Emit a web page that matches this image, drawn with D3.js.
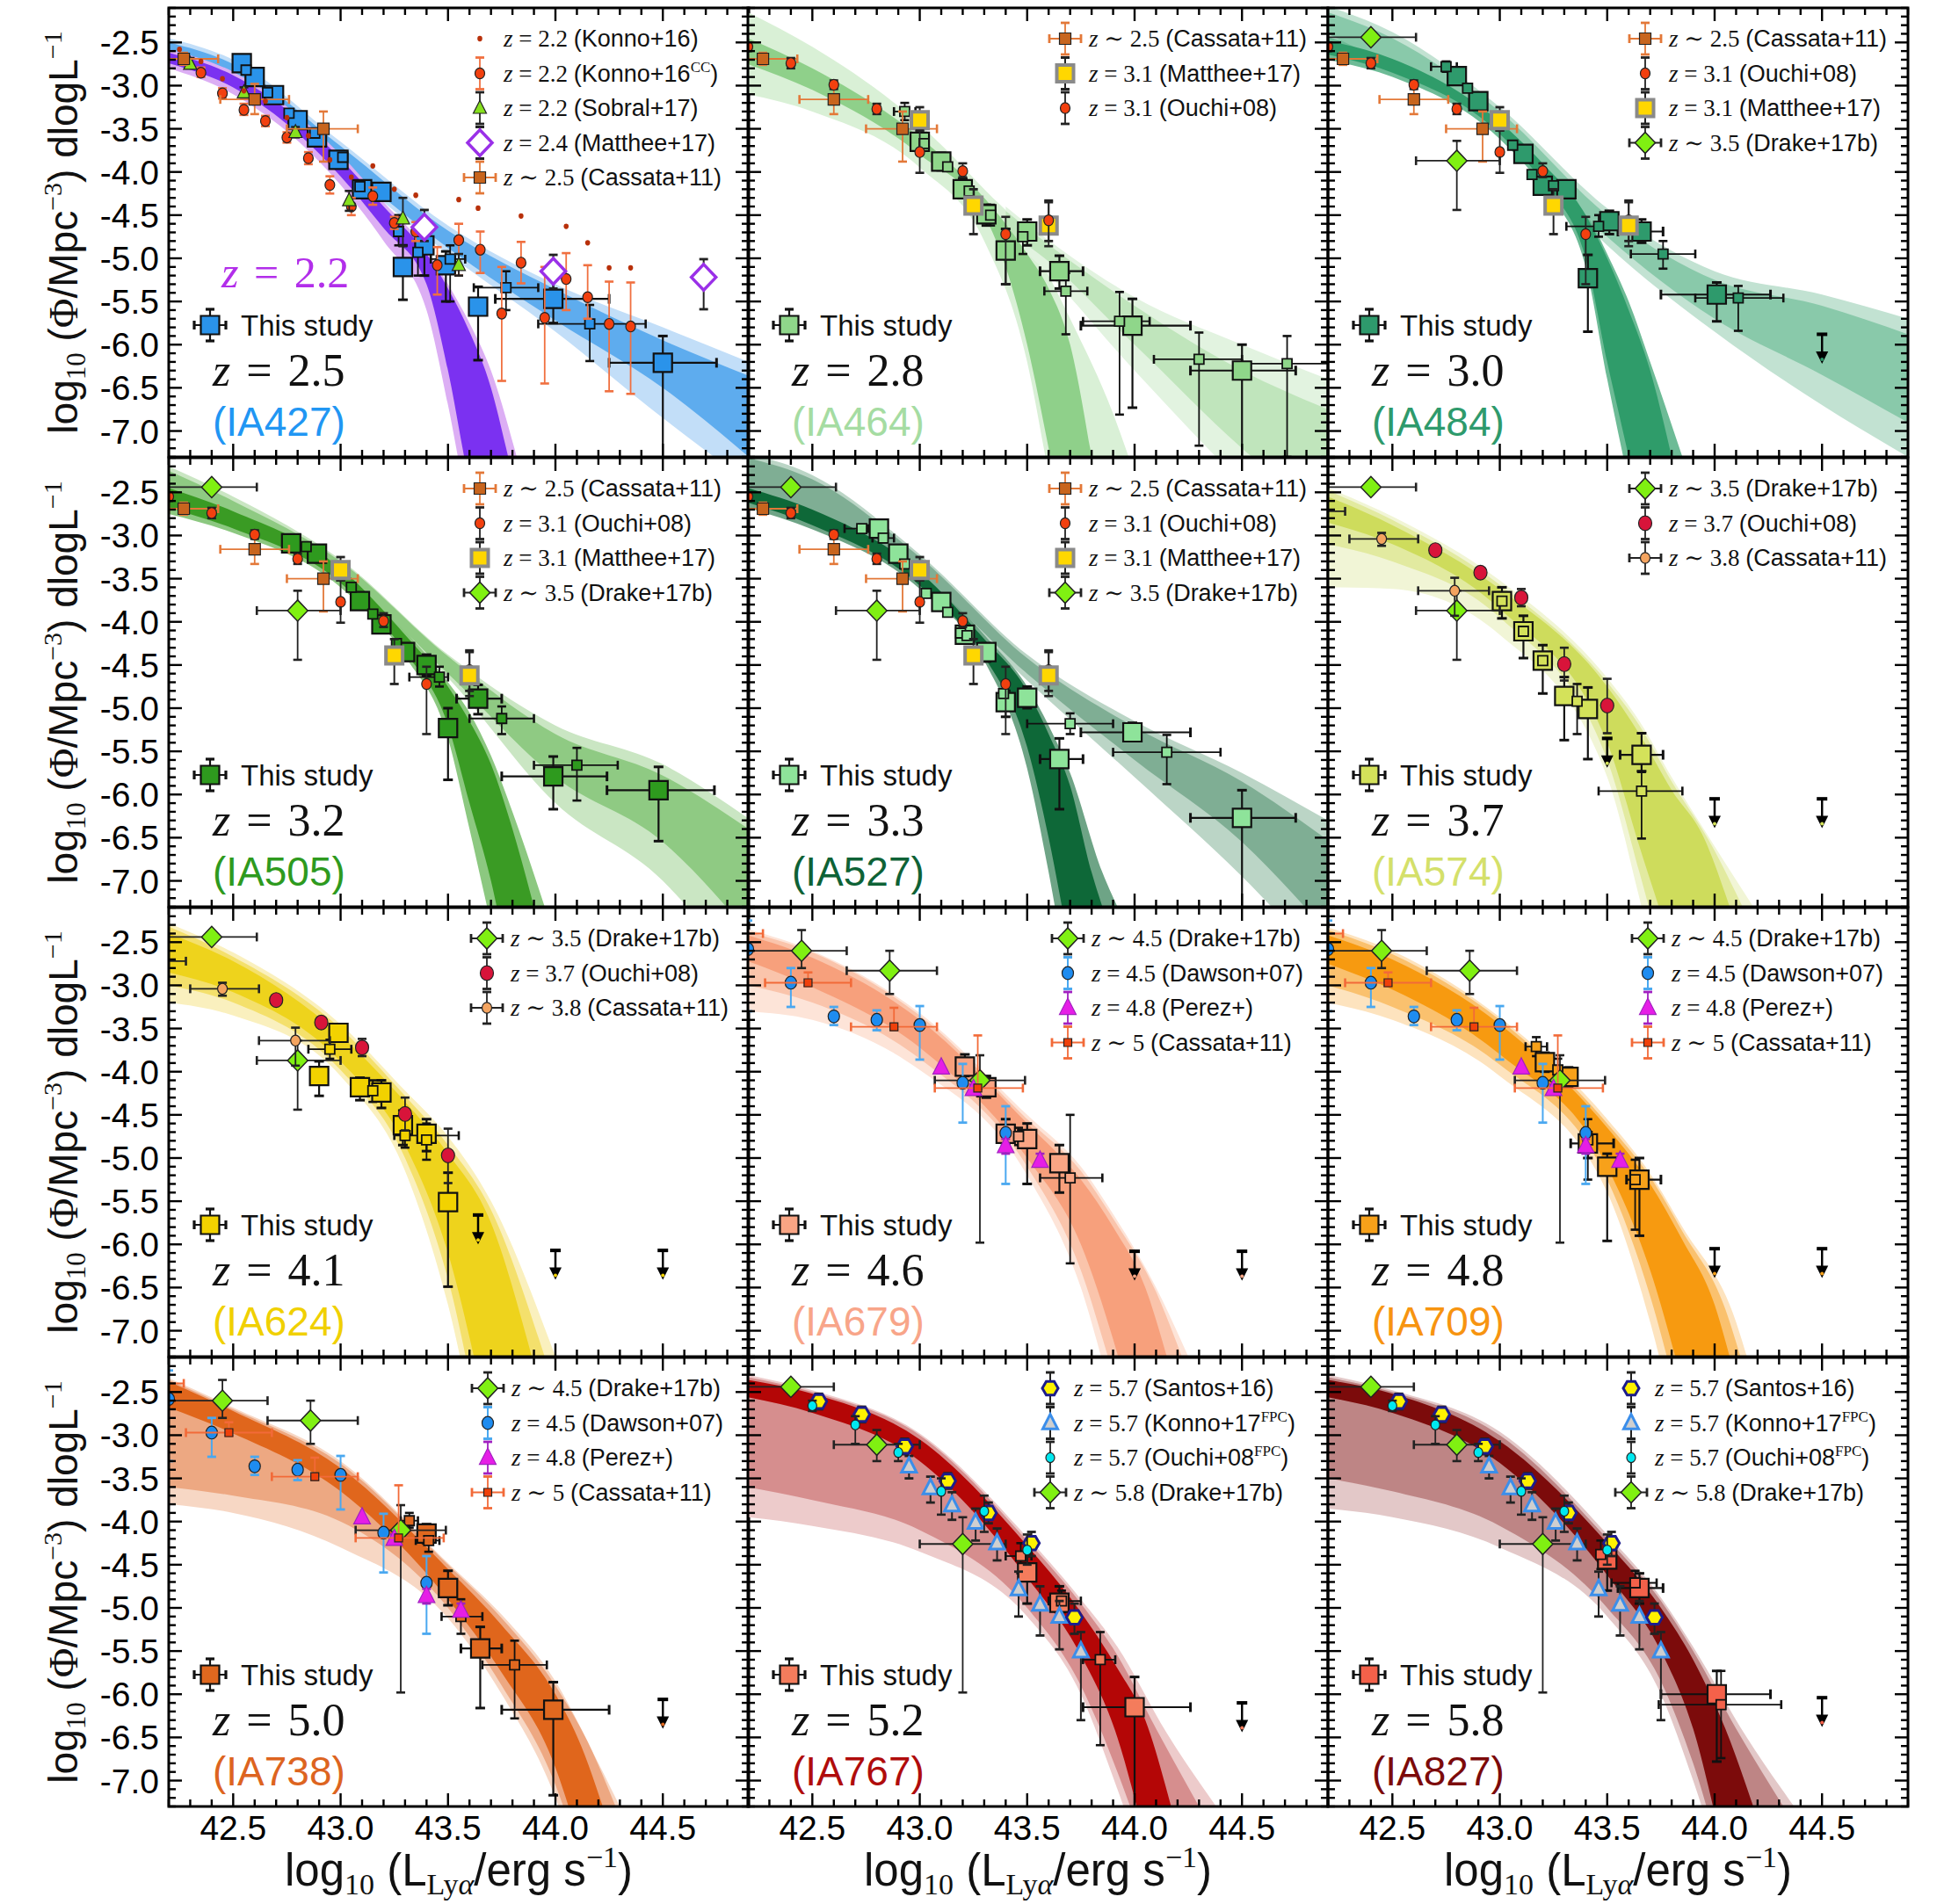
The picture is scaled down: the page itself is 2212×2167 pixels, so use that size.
<!DOCTYPE html>
<html><head><meta charset="utf-8">
<script src="https://cdn.jsdelivr.net/npm/d3@7"></script>
<style>body{margin:0;background:#fff}</style>
</head><body><svg id="c" width="2212" height="2167"></svg>
<script>
// ================= AXES =================
const xDomain = [42.2, 44.9];
const yDomain = [-7.3, -2.1];
const xTickValues = [42.5, 43.0, 43.5, 44.0, 44.5];
const xTickLabels = ["42.5", "43.0", "43.5", "44.0", "44.5"];
const yTickValues = [-2.5, -3.0, -3.5, -4.0, -4.5, -5.0, -5.5, -6.0, -6.5, -7.0];
const yTickLabels = ["-2.5", "-3.0", "-3.5", "-4.0", "-4.5", "-5.0", "-5.5", "-6.0", "-6.5", "-7.0"];
const filters = ["IA427", "IA464", "IA484", "IA505", "IA527", "IA574", "IA624", "IA679", "IA709", "IA738", "IA767", "IA827"];
const redshifts = ["2.5", "2.8", "3.0", "3.2", "3.3", "3.7", "4.1", "4.6", "4.8", "5.0", "5.2", "5.8"];

// point format: [logL, logPhi, phiLow, phiHigh, LLow, LHigh]
// ================= LITERATURE =================
const konno16 = [[42.25,-2.58],[42.35,-2.72],[42.45,-2.92],[42.55,-3.06],[42.65,-3.18],[42.75,-3.37],[42.85,-3.58],[42.95,-3.86],[43.05,-4.06],[43.15,-3.93],[43.25,-4.20],[43.35,-4.27],[43.55,-4.32],[43.64,-4.42],[43.84,-4.51],[44.05,-4.63],[44.15,-4.82],[44.25,-5.11],[44.35,-5.11]];
const konno16cc = [[42.35,-2.85,-2.90,-2.79],[42.45,-3.09,-3.15,-3.03],[42.55,-3.28,-3.34,-3.21],[42.65,-3.41,-3.47,-3.35],[42.75,-3.60,-3.66,-3.54],[42.85,-3.84,-3.91,-3.77],[42.95,-4.15,-4.25,-4.05],[43.05,-4.40,-4.50,-4.30],[43.15,-4.28,-4.38,-4.18],[43.25,-4.59,-4.66,-4.52],[43.35,-4.69,-4.80,-4.58],[43.45,-5.08,-5.42,-4.87],[43.55,-4.79,-5.20,-4.60],[43.65,-4.90,-5.17,-4.69],[43.75,-5.64,-6.42,-5.10],[43.84,-5.05,-5.29,-4.81],[43.95,-5.69,-6.45,-5.10],[44.05,-5.24,-5.60,-4.94],[44.15,-5.45,-5.70,-5.08],[44.25,-5.76,-6.54,-5.27],[44.35,-5.79,-6.57,-5.28]];
const sobral17 = [[42.30,-2.75,-2.80,-2.68],[42.55,-3.08,-3.14,-3.02],[42.79,-3.54,-3.60,-3.48],[43.04,-4.33,-4.45,-4.22],[43.29,-4.54,-4.86,-4.30],[43.55,-5.08,-5.20,-4.95]];
const matthee24 = [[43.39,-4.64,-4.80,-4.44],[43.99,-5.15,-5.35,-4.96],[44.69,-5.22,-5.59,-5.01]];
const cassata25 = [[42.27,-2.69,-2.76,-2.62,42.20,42.43],[42.60,-3.16,-3.33,-2.98,42.44,42.76],[42.92,-3.50,-3.88,-3.30,42.75,43.08]];
const ouchi31 = [[42.20,-2.55,-2.60,-2.50],[42.40,-2.74,-2.80,-2.68],[42.60,-2.99,-3.04,-2.94],[42.80,-3.27,-3.33,-3.21],[43.00,-3.77,-4.01,-3.52],[43.20,-3.99,-4.06,-3.90],[43.40,-4.72,-5.30,-4.52],[43.60,-4.56,-4.86,-4.33]];
const matthee31 = [[43.00,-3.40,-3.52,-3.25],[43.25,-4.39,-4.72,-4.20],[43.60,-4.62,-4.80,-4.35]];
const drake35 = [[42.40,-2.44,-2.49,-2.39,42.20,42.61],[42.80,-3.87,-4.44,-3.64,42.61,43.00]];
const ouchi37 = [[42.70,-3.17],[42.91,-3.43],[43.10,-3.72,-3.82,-3.62],[43.30,-4.49,-4.68,-4.30],[43.50,-4.97,-5.29,-4.66]];
const cassata38 = [[42.12,-2.72,-2.76,-2.68,42.00,42.28],[42.45,-3.04,-3.12,-2.97,42.30,42.62],[42.79,-3.64,-3.93,-3.49,42.62,42.95]];
const drake45 = [[42.45,-2.60,-2.80,-2.36,42.20,42.66],[42.86,-2.83,-3.10,-2.60,42.66,43.08],[43.28,-4.10,-5.98,-3.81,43.07,43.49]];
const dawson07 = [[42.20,-2.58,-3.30,-2.25],[42.40,-2.97,-3.25,-2.80],[42.60,-3.36,-3.46,-3.25],[42.80,-3.40,-3.52,-3.29],[43.00,-3.46,-3.86,-3.24],[43.20,-4.13,-4.59,-3.91],[43.40,-4.71,-5.30,-4.40]];
const perez = [[43.10,-3.95],[43.25,-4.20,-4.25,-4.15],[43.40,-4.86,-4.95,-4.78],[43.56,-5.03,-5.08,-4.95]];
const cassata5 = [[42.12,-2.40,-2.45,-2.35,42.00,42.27],[42.48,-2.97,-3.01,-2.85,42.28,42.68],[42.88,-3.48,-3.52,-3.26,42.68,43.08],[43.27,-4.19,-4.22,-3.58,43.07,43.48]];
const santos16 = [[42.53,-2.61,-2.70,-2.52],[42.73,-2.76,-2.85,-2.67],[42.93,-3.13,-3.22,-3.04],[43.13,-3.53,-3.62,-3.44],[43.32,-3.90,-4.02,-3.78],[43.52,-4.25,-4.40,-4.12],[43.72,-5.11,-5.30,-4.95]];
const konno17 = [[42.95,-3.36,-3.50,-3.24],[43.05,-3.61,-3.78,-3.48],[43.15,-3.81,-3.98,-3.66],[43.26,-4.01,-4.22,-3.85],[43.36,-4.25,-4.45,-4.08],[43.46,-4.78,-5.10,-4.58],[43.56,-4.96,-5.32,-4.75],[43.65,-5.10,-5.48,-4.92],[43.75,-5.50,-6.30,-5.28]];
const ouchi08fpc = [[42.50,-2.66,-2.72,-2.60],[42.70,-2.88,-3.10,-2.78],[42.90,-3.20,-3.30,-3.10],[43.10,-3.65,-3.92,-3.50],[43.30,-3.88,-4.12,-3.70],[43.50,-4.33,-4.50,-4.15]];
const drake58 = [[42.40,-2.44,-2.49,-2.39,42.20,42.60],[42.80,-3.11,-3.30,-2.94,42.60,43.00],[43.20,-4.26,-5.98,-3.95,43.00,43.40]];

// ================= THIS STUDY =================
const ia427Big = [[42.54,-2.74,-2.82,-2.66],[42.60,-2.90],[42.69,-3.11],[42.80,-3.40,-3.48,-3.33],[42.89,-3.60,-3.68,-3.52],[42.99,-3.86,-3.95,-3.78],[43.10,-4.20,-4.30,-4.10],[43.19,-4.23,-4.33,-4.14],[43.29,-5.10,-5.48,-4.85],[43.39,-4.85,-5.20,-4.55],[43.49,-5.08,-5.50,-4.92],[43.64,-5.56,-6.18,-5.33],[43.99,-5.47,-5.75,-5.05,43.72,44.25],[44.50,-6.21,-7.40,-5.90,44.25,44.75]];
const ia427Small = [[42.56,-2.82],[42.66,-3.08],[42.76,-3.32],[42.88,-3.55],[43.01,-3.83],[43.09,-4.17],[43.27,-4.69,-4.85,-4.50],[43.36,-4.93,-5.20,-4.70],[43.51,-5.01,-5.50,-4.85,43.42,43.58],[43.77,-5.34,-5.60,-5.15,43.62,43.92],[44.16,-5.76,-6.19,-5.54,43.92,44.42]];
const ia464Big = [[43.00,-3.65,-3.75,-3.55],[43.10,-3.88,-3.98,-3.78],[43.20,-4.20,-4.30,-4.08],[43.31,-4.49,-4.62,-4.38],[43.40,-4.91,-5.30,-4.66],[43.50,-4.69,-4.85,-4.55],[43.65,-5.15,-5.35,-4.97,43.56,43.76],[43.99,-5.78,-6.73,-5.47,43.75,44.26],[44.50,-6.30,-7.40,-6.00,44.26,44.75]];
const ia464Small = [[42.93,-3.30,-3.40,-3.20,42.88,42.98],[43.02,-3.67],[43.13,-3.94],[43.23,-4.22],[43.33,-4.50,-4.62,-4.38],[43.48,-4.75,-4.95,-4.60],[43.68,-5.38,-5.88,-5.17,43.58,43.78],[43.93,-5.73,-6.81,-5.39,43.76,44.07],[44.30,-6.17,-7.17,-5.86,44.09,44.50],[44.71,-6.22,-7.30,-5.90,44.50,44.95]];
const ia484Big = [[42.80,-2.89,-2.96,-2.80],[42.90,-3.18,-3.26,-3.10],[43.11,-3.79,-3.87,-3.71],[43.20,-4.16,-4.24,-4.08],[43.31,-4.20,-4.30,-4.10],[43.41,-5.23,-5.85,-4.96],[43.51,-4.57,-4.72,-4.45],[43.66,-4.69,-4.82,-4.55,43.55,43.76],[44.01,-5.42,-5.73,-5.28,43.75,44.26]];
const ia484Small = [[42.75,-2.78,-2.84,-2.72,42.68,42.80],[42.85,-3.03],[43.06,-3.69],[43.15,-4.03],[43.25,-4.16],[43.46,-4.63,-4.75,-4.50,43.31,43.50],[43.76,-4.95,-5.12,-4.80,43.61,43.91],[44.11,-5.46,-5.84,-5.32,43.91,44.32]];
const ia484Upper = [[44.5,-5.88]];
const ia505Big = [[42.77,-3.09,-3.17,-3.01],[42.89,-3.21,-3.30,-3.12],[43.09,-3.76,-3.84,-3.68],[43.19,-4.03,-4.12,-3.94],[43.30,-4.35,-4.45,-4.25],[43.40,-4.50,-4.62,-4.38],[43.50,-5.23,-5.83,-5.00],[43.64,-4.89,-5.07,-4.73,43.54,43.75],[43.99,-5.79,-6.17,-5.56,43.75,44.24],[44.48,-5.95,-6.54,-5.68,44.24,44.74]];
const ia505Small = [[42.84,-3.13],[43.05,-3.60],[43.15,-3.91],[43.26,-4.25],[43.46,-4.64,-4.75,-4.52,43.32,43.50],[43.75,-5.12,-5.30,-4.98,43.60,43.90],[44.10,-5.66,-6.07,-5.46,43.90,44.29]];
const ia527Big = [[42.81,-2.92,-3.00,-2.84],[42.90,-3.21,-3.30,-3.12],[43.10,-3.77,-3.86,-3.68],[43.21,-4.15,-4.25,-4.05],[43.31,-4.35,-4.46,-4.25],[43.40,-4.93,-5.10,-4.80],[43.50,-4.88,-5.00,-4.75],[43.65,-5.59,-6.17,-5.35,43.56,43.76],[43.99,-5.28,-5.38,-5.17,43.75,44.26],[44.50,-6.27,-7.40,-5.95,44.26,44.75]];
const ia527Small = [[42.73,-2.92,-2.96,-2.88,42.65,42.76],[42.83,-3.03,-3.08,-2.97,42.78,42.88],[42.93,-3.33],[43.03,-3.67],[43.13,-3.89],[43.19,-4.13],[43.22,-4.16],[43.39,-4.83],[43.70,-5.18,-5.30,-5.06,43.50,43.90],[44.15,-5.51,-5.88,-5.31,43.90,44.40]];
const ia574Big = [[43.01,-3.76,-3.96,-3.60],[43.11,-4.11,-4.42,-3.93],[43.20,-4.45,-4.83,-4.27],[43.30,-4.86,-5.37,-4.64],[43.41,-5.01,-5.59,-4.76],[43.66,-5.54,-5.73,-5.29,43.56,43.76]];
const ia574Small = [[43.01,-3.76],[43.11,-4.11],[43.20,-4.45],[43.36,-4.92,-5.30,-4.72],[43.66,-5.96,-6.51,-5.74,43.46,43.85]];
const ia574Upper = [[43.5,-5.35],[44.0,-6.05],[44.5,-6.05]];
const ia624Big = [[42.99,-3.55,-3.65,-3.45],[42.90,-4.05,-4.28,-3.88],[43.09,-4.18,-4.33,-4.07],[43.19,-4.24,-4.42,-4.10],[43.29,-4.62,-4.85,-4.45],[43.40,-4.72,-4.92,-4.55],[43.50,-5.51,-6.49,-5.17]];
const ia624Small = [[42.95,-3.74,-3.85,-3.63,42.85,43.05],[43.15,-4.22,-4.35,-4.10],[43.30,-4.74,-4.88,-4.60,43.25,43.55],[43.40,-4.79,-5.02,-4.60]];
const ia624Upper = [[43.64,-5.66],[44.0,-6.07],[44.5,-6.07]];
const ia679Big = [[43.21,-3.94,-4.05,-3.80],[43.31,-4.18,-4.30,-4.05],[43.40,-4.72,-4.85,-4.55],[43.50,-4.78,-5.30,-4.60],[43.65,-5.06,-5.40,-4.85]];
const ia679Small = [[43.46,-4.75,-4.85,-4.65],[43.70,-5.23,-6.22,-4.50,43.56,43.85]];
const ia679Upper = [[44.0,-6.08],[44.5,-6.08]];
const ia709Big = [[43.21,-3.89,-4.00,-3.78],[43.32,-4.06,-4.18,-3.95],[43.41,-4.83,-5.00,-4.70,43.33,43.53],[43.50,-5.10,-5.96,-4.95],[43.65,-5.25,-5.90,-5.00,43.59,43.75]];
const ia709Small = [[43.17,-3.71,-3.82,-3.60,43.12,43.22],[43.27,-3.98,-4.10,-3.85],[43.41,-4.79,-5.25,-4.55],[43.63,-5.25,-5.83,-5.02]];
const ia709Upper = [[44.0,-6.05],[44.5,-6.05]];
const ia738Big = [[43.40,-4.14,-4.25,-4.03],[43.50,-4.77,-4.97,-4.57],[43.65,-5.47,-6.16,-5.22,43.56,43.75],[43.99,-6.18,-7.17,-5.86,43.75,44.25]];
const ia738Small = [[43.32,-3.99,-4.07,-3.90,43.28,43.36],[43.41,-4.22,-4.35,-4.10,43.35,43.46],[43.56,-5.10,-5.30,-4.90,43.47,43.66],[43.81,-5.66,-6.28,-5.38,43.66,43.96]];
const ia738Upper = [[44.5,-6.06]];
const ia767Big = [[43.50,-4.59,-4.95,-4.40],[43.65,-4.94,-5.15,-4.75],[44.00,-6.15,-7.40,-5.80,43.76,44.26]];
const ia767Small = [[43.47,-4.40,-4.60,-4.25,43.40,43.52],[43.66,-4.92,-5.05,-4.80,43.60,43.75],[43.84,-5.60,-6.59,-5.28,43.76,43.91]];
const ia767Upper = [[44.5,-6.10]];
const ia827Big = [[43.50,-4.44,-4.80,-4.25],[43.65,-4.77,-4.95,-4.60,43.55,43.76],[44.01,-6.00,-6.78,-5.73,43.75,44.26]];
const ia827Small = [[43.47,-4.38,-4.55,-4.22],[43.63,-4.71,-4.85,-4.57,43.52,43.73],[44.03,-6.12,-6.74,-5.73,43.74,44.31]];
const ia827Upper = [[44.5,-6.04]];

// ================= FIT BANDS: [logL, lower, upper] =================
const ia427BandOuter = [[42.2,-2.78,-2.45],[42.5,-3.02,-2.70],[43.0,-3.95,-3.65],[43.5,-4.95,-4.62],[44.0,-5.85,-5.30],[44.5,-6.85,-5.80],[44.9,-7.6,-6.20]];
const ia427BandInner = [[42.2,-2.72,-2.50],[42.5,-2.97,-2.75],[43.0,-3.90,-3.70],[43.5,-4.88,-4.68],[44.0,-5.72,-5.36],[44.5,-6.50,-5.95],[44.9,-7.3,-6.36]];
const ia427Z22Outer = [[42.2,-2.80,-2.58],[42.5,-3.10,-2.84],[43.0,-4.15,-3.80],[43.2,-4.80,-4.35],[43.4,-5.60,-4.90],[43.5,-6.70,-5.30],[43.6,-8.0,-5.75],[43.7,-9.0,-6.30],[43.82,-9.5,-7.30]];
const ia427Z22Inner = [[42.2,-2.74,-2.62],[42.5,-3.02,-2.88],[42.8,-3.55,-3.38],[43.0,-4.05,-3.85],[43.2,-4.65,-4.40],[43.4,-5.30,-4.95],[43.5,-6.30,-5.35],[43.6,-7.60,-5.85],[43.7,-8.5,-6.50],[43.78,-9.0,-7.30]];
const ia464SteepOuter = [[42.2,-3.10,-2.15],[42.5,-3.30,-2.55],[43.0,-3.95,-3.45],[43.3,-4.80,-4.20],[43.5,-6.20,-4.75],[43.6,-7.50,-5.20],[43.7,-8.8,-5.70],[43.9,-10,-6.80],[44.0,-10.5,-7.50]];
const ia464SteepInner = [[42.2,-2.75,-2.45],[42.5,-3.05,-2.80],[43.0,-3.80,-3.60],[43.3,-4.50,-4.30],[43.4,-5.10,-4.60],[43.5,-6.00,-4.95],[43.6,-7.20,-5.35],[43.7,-8.5,-6.00],[43.8,-9.5,-7.30]];
const ia464ShallowOuter = [[43.4,-4.75,-4.40],[43.5,-4.95,-4.60],[44.0,-6.30,-5.45],[44.5,-7.60,-6.00],[44.9,-8.5,-6.40]];
const ia464ShallowInner = [[43.4,-4.70,-4.45],[43.5,-4.85,-4.65],[44.0,-6.00,-5.55],[44.5,-7.20,-6.30],[44.9,-8.0,-6.75]];
const ia484SteepOuter = [[42.2,-2.70,-2.44],[42.5,-2.90,-2.65],[43.0,-3.62,-3.38],[43.2,-4.18,-3.86],[43.4,-5.10,-4.45],[43.5,-6.40,-4.95],[43.6,-7.60,-5.50],[43.7,-8.8,-6.20],[43.85,-10,-7.30]];
const ia484SteepInner = [[42.2,-2.64,-2.48],[42.5,-2.85,-2.69],[43.0,-3.56,-3.42],[43.2,-4.12,-3.90],[43.4,-5.00,-4.50],[43.5,-6.20,-5.00],[43.6,-7.30,-5.60],[43.7,-8.5,-6.30],[43.8,-9.5,-7.30]];
const ia484ShallowOuter = [[42.2,-2.50,-2.08],[42.5,-2.85,-2.38],[43.0,-3.55,-3.25],[43.5,-4.85,-4.42],[44.0,-5.85,-5.15],[44.5,-6.70,-5.42],[44.9,-7.30,-5.70]];
const ia484ShallowInner = [[42.2,-2.40,-2.15],[42.5,-2.78,-2.45],[43.0,-3.50,-3.30],[43.5,-4.75,-4.50],[44.0,-5.70,-5.25],[44.5,-6.35,-5.55],[44.9,-6.90,-5.88]];
const ia505SteepOuter = [[42.2,-2.75,-2.40],[42.5,-2.97,-2.68],[43.0,-3.60,-3.33],[43.3,-4.40,-4.10],[43.5,-5.35,-4.70],[43.6,-6.40,-5.05],[43.7,-7.50,-5.55],[43.8,-8.6,-6.20],[43.95,-10,-7.30]];
const ia505SteepInner = [[42.2,-2.68,-2.45],[42.5,-2.92,-2.72],[43.0,-3.55,-3.38],[43.3,-4.35,-4.15],[43.5,-5.20,-4.75],[43.6,-6.10,-5.15],[43.7,-7.00,-5.65],[43.8,-8.2,-6.40],[43.9,-9.5,-7.30]];
const ia505ShallowOuter = [[42.2,-2.60,-2.20],[42.5,-2.90,-2.55],[43.0,-3.50,-3.28],[43.5,-4.65,-4.38],[44.0,-6.10,-5.20],[44.5,-7.00,-5.65],[44.9,-8.2,-6.28]];
const ia505ShallowInner = [[42.2,-2.55,-2.25],[42.5,-2.85,-2.60],[43.0,-3.45,-3.30],[43.5,-4.60,-4.40],[44.0,-5.80,-5.30],[44.5,-6.55,-5.78],[44.9,-7.6,-6.40]];
const ia527SteepOuter = [[42.2,-2.68,-2.40],[42.5,-2.93,-2.65],[43.0,-3.62,-3.37],[43.3,-4.45,-4.15],[43.5,-5.70,-4.75],[43.6,-6.90,-5.20],[43.7,-8.3,-5.75],[43.85,-10,-6.90],[43.92,-10.5,-7.30]];
const ia527SteepInner = [[42.2,-2.62,-2.45],[42.5,-2.88,-2.70],[43.0,-3.58,-3.42],[43.3,-4.40,-4.20],[43.5,-5.45,-4.80],[43.6,-6.50,-5.30],[43.7,-7.80,-5.90],[43.8,-9.0,-6.90],[43.85,-9.5,-7.30]];
const ia527ShallowOuter = [[42.2,-2.50,-2.05],[42.5,-2.80,-2.30],[43.0,-3.50,-3.22],[43.5,-4.68,-4.38],[44.0,-5.80,-5.15],[44.5,-6.95,-5.75],[44.9,-8.0,-6.30]];
const ia527ShallowInner = [[42.2,-2.45,-2.10],[42.5,-2.75,-2.35],[43.0,-3.45,-3.25],[43.5,-4.60,-4.42],[44.0,-5.60,-5.22],[44.5,-6.55,-5.85],[44.9,-7.6,-6.53]];
const ia574BandLightest = [[42.2,-3.60,-2.45],[42.5,-3.62,-2.78],[43.0,-4.15,-3.52],[43.5,-5.80,-4.65],[43.65,-7.20,-5.15],[43.8,-8.8,-5.80],[44.0,-10.5,-6.60],[44.18,-11.5,-7.30]];
const ia574BandOuter = [[42.2,-3.10,-2.48],[42.5,-3.30,-2.82],[43.0,-3.95,-3.57],[43.5,-5.60,-4.70],[43.65,-6.90,-5.20],[43.8,-8.3,-5.85],[44.0,-10,-6.65],[44.13,-11,-7.30]];
const ia574BandInner = [[42.2,-2.85,-2.55],[42.5,-3.10,-2.88],[43.0,-3.85,-3.62],[43.5,-5.40,-4.75],[43.65,-6.60,-5.30],[43.8,-7.8,-5.95],[43.95,-9.3,-6.50],[44.07,-10.5,-7.30]];
const ia624BandLightest = [[42.2,-3.20,-2.28],[42.5,-3.35,-2.62],[43.0,-4.05,-3.45],[43.3,-5.15,-4.22],[43.5,-6.70,-4.75],[43.7,-9.0,-5.50],[44.0,-11.5,-7.30]];
const ia624BandOuter = [[42.2,-3.00,-2.32],[42.5,-3.20,-2.67],[43.0,-3.98,-3.50],[43.3,-5.00,-4.28],[43.5,-6.40,-4.85],[43.7,-8.7,-5.60],[43.95,-11,-7.30]];
const ia624BandInner = [[42.2,-2.85,-2.40],[42.5,-3.08,-2.72],[43.0,-3.88,-3.58],[43.3,-4.85,-4.35],[43.5,-6.10,-4.95],[43.7,-8.2,-5.75],[43.89,-10.5,-7.30]];
const ia679BandLightest = [[42.2,-3.30,-2.35],[42.5,-3.40,-2.60],[43.0,-3.98,-3.32],[43.5,-5.20,-4.50],[43.75,-6.50,-5.10],[43.9,-7.8,-5.65],[44.1,-9.5,-6.50],[44.25,-11,-7.30]];
const ia679BandOuter = [[42.2,-3.00,-2.38],[42.5,-3.20,-2.62],[43.0,-3.85,-3.35],[43.5,-5.10,-4.55],[43.75,-6.30,-5.15],[43.9,-7.5,-5.70],[44.1,-9.2,-6.55],[44.22,-10.5,-7.30]];
const ia679BandInner = [[42.2,-2.72,-2.42],[42.5,-3.02,-2.68],[43.0,-3.72,-3.40],[43.5,-5.00,-4.60],[43.75,-6.00,-5.25],[43.9,-7.1,-5.80],[44.05,-8.5,-6.50],[44.15,-9.5,-7.30]];
const ia709BandLightest = [[42.2,-3.20,-2.33],[42.5,-3.40,-2.60],[43.0,-4.05,-3.37],[43.5,-5.40,-4.55],[43.7,-6.90,-5.18],[43.85,-8.4,-5.80],[44.1,-10.5,-6.90],[44.15,-11,-7.30]];
const ia709BandOuter = [[42.2,-3.00,-2.36],[42.5,-3.25,-2.64],[43.0,-3.92,-3.40],[43.5,-5.25,-4.60],[43.7,-6.60,-5.22],[43.85,-8.0,-5.85],[44.05,-10,-6.75],[44.12,-10.5,-7.30]];
const ia709BandInner = [[42.2,-2.75,-2.42],[42.5,-3.05,-2.70],[43.0,-3.80,-3.45],[43.5,-5.10,-4.65],[43.7,-6.30,-5.30],[43.85,-7.6,-5.95],[44.0,-9.0,-6.70],[44.07,-10,-7.30]];
const ia738BandLightest = [[42.2,-3.80,-2.34],[42.5,-3.90,-2.68],[43.0,-4.30,-3.30],[43.5,-5.12,-4.48],[43.75,-6.00,-5.08],[44.0,-7.20,-5.85],[44.2,-8.8,-6.80],[44.3,-9.8,-7.30]];
const ia738BandOuter = [[42.2,-3.60,-2.36],[42.5,-3.70,-2.70],[43.0,-4.00,-3.33],[43.5,-5.00,-4.50],[43.75,-5.90,-5.12],[44.0,-7.05,-5.90],[44.15,-8.2,-6.55],[44.28,-9.5,-7.30]];
const ia738BandInner = [[42.2,-2.68,-2.38],[42.5,-2.98,-2.72],[43.0,-3.65,-3.38],[43.5,-4.90,-4.55],[43.75,-5.75,-5.20],[44.0,-6.85,-6.00],[44.12,-7.8,-6.60],[44.22,-8.8,-7.30]];
const ia767BandLightest = [[42.2,-3.95,-2.30],[42.5,-4.05,-2.48],[43.0,-4.35,-2.98],[43.5,-5.10,-4.18],[43.75,-6.00,-4.90],[43.92,-7.10,-5.45],[44.15,-8.8,-6.45],[44.38,-10.5,-7.30]];
const ia767BandOuter = [[42.2,-3.60,-2.33],[42.5,-3.75,-2.50],[43.0,-4.10,-3.00],[43.5,-5.00,-4.22],[43.75,-5.90,-4.95],[43.92,-6.90,-5.55],[44.1,-8.2,-6.40],[44.3,-10,-7.30]];
const ia767BandInner = [[42.2,-2.56,-2.36],[42.5,-2.74,-2.52],[43.0,-3.30,-3.05],[43.5,-4.65,-4.28],[43.75,-5.55,-5.05],[43.92,-6.50,-5.70],[44.05,-7.7,-6.30],[44.17,-9.0,-7.30]];
const ia827BandLightest = [[42.2,-3.85,-2.30],[42.5,-3.95,-2.48],[43.0,-4.30,-2.96],[43.5,-5.10,-4.15],[43.75,-6.00,-4.88],[43.9,-7.00,-5.45],[44.15,-9.0,-6.50],[44.37,-10.5,-7.30]];
const ia827BandOuter = [[42.2,-3.50,-2.33],[42.5,-3.65,-2.50],[43.0,-4.05,-3.00],[43.5,-5.00,-4.20],[43.75,-5.85,-4.92],[43.9,-6.80,-5.50],[44.1,-8.5,-6.40],[44.32,-10,-7.30]];
const ia827BandInner = [[42.2,-2.56,-2.36],[42.5,-2.74,-2.52],[43.0,-3.32,-3.07],[43.5,-4.62,-4.25],[43.75,-5.50,-5.00],[43.9,-6.40,-5.60],[44.05,-7.9,-6.40],[44.18,-9.2,-7.30]];

// ================= STYLES =================
const SANS = "'Liberation Sans', Arial, Helvetica, sans-serif";
const SERIF = "'Liberation Serif', 'DejaVu Serif', 'Times New Roman', serif";
const STY = {
  konno16:   {shape:'circle', s:5.6, fill:'#B8300A', stroke:'none', sw:0, err:null, lerr:''},
  konno16cc: {shape:'circle', s:11, fill:'#F2400F', stroke:'#222', sw:1.2, err:'#F07040', ew:1.8, lerr:'v'},
  sobral:    {shape:'triangle', s:15, fill:'#86E01E', stroke:'#222', sw:1.2, err:'#222', ew:1.8, lerr:'v'},
  matthee24: {shape:'diamond', s:28, fill:'#fff', stroke:'#9A30E8', sw:3.5, err:'#222', ew:2, lerr:'v'},
  cassata25: {shape:'square', s:13, fill:'#C8651E', stroke:'#222', sw:1.2, err:'#E37838', ew:1.8, lerr:'b'},
  matthee31: {shape:'square', s:19, fill:'#FFD700', stroke:'#8A8A8A', sw:4, err:'#222', ew:2, lerr:'v'},
  ouchi31:   {shape:'circle', s:11, fill:'#F2400F', stroke:'#222', sw:1.2, err:'#222', ew:1.8, lerr:'v'},
  drake:     {shape:'diamond', s:23, fill:'#80F012', stroke:'#222', sw:1.5, err:'#222', ew:1.8, lerr:'b'},
  ouchi37:   {shape:'circle', s:15, fill:'#D8143A', stroke:'#222', sw:1.2, err:'#222', ew:1.8, lerr:'v'},
  cassata38: {shape:'circle', s:11, fill:'#F4A460', stroke:'#222', sw:1.2, err:'#222', ew:1.8, lerr:'b'},
  dawson:    {shape:'circle', s:13, fill:'#1E8CF0', stroke:'#222', sw:1.2, err:'#4AA8F0', ew:2, lerr:'v'},
  perez:     {shape:'triangle', s:19, fill:'#E61EE6', stroke:'#A020C0', sw:1.2, err:'#A020C0', ew:1.8, lerr:'v'},
  cassata5:  {shape:'square', s:9, fill:'#F0400A', stroke:'#222', sw:1.2, err:'#F26A38', ew:1.8, lerr:'b'},
  santos:    {shape:'hex', s:18, fill:'#FFF200', stroke:'#1C1C8C', sw:3, err:'#222', ew:2, lerr:'v'},
  konno17:   {shape:'triangle', s:17, fill:'#CFCFCF', stroke:'#3B8EEA', sw:3, err:'#222', ew:2, lerr:'v'},
  ouchiFPC:  {shape:'circle', s:10, fill:'#00E8F0', stroke:'#222', sw:1.2, err:'#222', ew:1.8, lerr:'v'}
};

const panels = [
  {big:ia427Big, small:ia427Small, fill:'#2A93EA', label:'#2196F3', up:[],
   bands:[[ia427BandOuter,'#C2DEF8'],[ia427BandInner,'#5EACEE'],[ia427Z22Outer,'#DCAEF4'],[ia427Z22Inner,'#7B31F1']],
   others:[['konno16cc',konno16cc],['sobral',sobral17],['matthee24',matthee24],['cassata25',cassata25],['konno16',konno16]],
   legend:[['konno16','=','2.2','Konno+16',''],['konno16cc','=','2.2','Konno+16','CC'],['sobral','=','2.2','Sobral+17',''],['matthee24','=','2.4','Matthee+17',''],['cassata25','∼','2.5','Cassata+11','']], lx:354},
  {big:ia464Big, small:ia464Small, fill:'#8FD68A', label:'#A5DCA2', up:[],
   bands:[[ia464SteepOuter,'#D9F0D6'],[ia464ShallowOuter,'#E2F3E0'],[ia464ShallowInner,'#C0E5BC'],[ia464SteepInner,'#8FD08A']],
   others:[['cassata25',cassata25],['matthee31',matthee31],['ouchi31',ouchi31]],
   legend:[['cassata25','∼','2.5','Cassata+11',''],['matthee31','=','3.1','Matthee+17',''],['ouchi31','=','3.1','Ouchi+08','']], lx:361},
  {big:ia484Big, small:ia484Small, fill:'#2E9A6C', label:'#2E9A6C', up:ia484Upper,
   bands:[[ia484ShallowOuter,'#C2E2D2'],[ia484SteepOuter,'#6DBB96'],[ia484ShallowInner,'#89C9AA'],[ia484SteepInner,'#2F9C6A']],
   others:[['cassata25',cassata25],['ouchi31',ouchi31],['matthee31',matthee31],['drake',drake35]],
   legend:[['cassata25','∼','2.5','Cassata+11',''],['ouchi31','=','3.1','Ouchi+08',''],['matthee31','=','3.1','Matthee+17',''],['drake','∼','3.5','Drake+17b','']], lx:361},
  {big:ia505Big, small:ia505Small, fill:'#2E9A1E', label:'#2E9A1E', up:[],
   bands:[[ia505ShallowOuter,'#CAE6C3'],[ia505SteepOuter,'#8CC880'],[ia505ShallowInner,'#8FCA83'],[ia505SteepInner,'#3A9B24']],
   others:[['cassata25',cassata25],['ouchi31',ouchi31],['matthee31',matthee31],['drake',drake35]],
   legend:[['cassata25','∼','2.5','Cassata+11',''],['ouchi31','=','3.1','Ouchi+08',''],['matthee31','=','3.1','Matthee+17',''],['drake','∼','3.5','Drake+17b','']], lx:354},
  {big:ia527Big, small:ia527Small, fill:'#8EE39A', label:'#0E6236', up:[],
   bands:[[ia527ShallowOuter,'#BBD5C6'],[ia527SteepOuter,'#6EA486'],[ia527ShallowInner,'#7FAE94'],[ia527SteepInner,'#0E6838']],
   others:[['cassata25',cassata25],['ouchi31',ouchi31],['matthee31',matthee31],['drake',drake35]],
   legend:[['cassata25','∼','2.5','Cassata+11',''],['ouchi31','=','3.1','Ouchi+08',''],['matthee31','=','3.1','Matthee+17',''],['drake','∼','3.5','Drake+17b','']], lx:361},
  {big:ia574Big, small:ia574Small, fill:'#D4E25A', label:'#D4E06A', up:ia574Upper,
   bands:[[ia574BandLightest,'#F1F5D6'],[ia574BandOuter,'#E2EAA0'],[ia574BandInner,'#CEDC5C']],
   others:[['drake',drake35],['ouchi37',ouchi37],['cassata38',cassata38]],
   legend:[['drake','∼','3.5','Drake+17b',''],['ouchi37','=','3.7','Ouchi+08',''],['cassata38','∼','3.8','Cassata+11','']], lx:361},
  {big:ia624Big, small:ia624Small, fill:'#F2D200', label:'#F0D000', up:ia624Upper,
   bands:[[ia624BandLightest,'#FAF0BE'],[ia624BandOuter,'#F4E06C'],[ia624BandInner,'#EED31C']],
   others:[['drake',drake35],['ouchi37',ouchi37],['cassata38',cassata38]],
   legend:[['drake','∼','3.5','Drake+17b',''],['ouchi37','=','3.7','Ouchi+08',''],['cassata38','∼','3.8','Cassata+11','']], lx:362},
  {big:ia679Big, small:ia679Small, fill:'#F9A584', label:'#F8A589', up:ia679Upper,
   bands:[[ia679BandLightest,'#FDE4D8'],[ia679BandOuter,'#FAC4AB'],[ia679BandInner,'#F7A07C']],
   others:[['drake',drake45],['dawson',dawson07],['perez',perez],['cassata5',cassata5]],
   legend:[['drake','∼','4.5','Drake+17b',''],['dawson','=','4.5','Dawson+07',''],['perez','=','4.8','Perez+',''],['cassata5','∼','5','Cassata+11','']], lx:364},
  {big:ia709Big, small:ia709Small, fill:'#F7A11A', label:'#F79410', up:ia709Upper,
   bands:[[ia709BandLightest,'#FDE3BE'],[ia709BandOuter,'#FAC16E'],[ia709BandInner,'#F79A10']],
   others:[['drake',drake45],['dawson',dawson07],['perez',perez],['cassata5',cassata5]],
   legend:[['drake','∼','4.5','Drake+17b',''],['dawson','=','4.5','Dawson+07',''],['perez','=','4.8','Perez+',''],['cassata5','∼','5','Cassata+11','']], lx:364},
  {big:ia738Big, small:ia738Small, fill:'#E0681F', label:'#DD6420', up:ia738Upper,
   bands:[[ia738BandLightest,'#F7D7C4'],[ia738BandOuter,'#EDA882'],[ia738BandInner,'#E0661C']],
   others:[['drake',drake45],['dawson',dawson07],['perez',perez],['cassata5',cassata5]],
   legend:[['drake','∼','4.5','Drake+17b',''],['dawson','=','4.5','Dawson+07',''],['perez','=','4.8','Perez+',''],['cassata5','∼','5','Cassata+11','']], lx:363},
  {big:ia767Big, small:ia767Small, fill:'#F47C5C', label:'#B00C0C', up:ia767Upper,
   bands:[[ia767BandLightest,'#EDCBCB'],[ia767BandOuter,'#D68E8E'],[ia767BandInner,'#B40606']],
   others:[['drake',drake58],['konno17',konno17],['santos',santos16],['ouchiFPC',ouchi08fpc]],
   legend:[['santos','=','5.7','Santos+16',''],['konno17','=','5.7','Konno+17','FPC'],['ouchiFPC','=','5.7','Ouchi+08','FPC'],['drake','∼','5.8','Drake+17b','']], lx:344},
  {big:ia827Big, small:ia827Small, fill:'#F4614A', label:'#7C0A0A', up:ia827Upper,
   bands:[[ia827BandLightest,'#E3C8C8'],[ia827BandOuter,'#BE8585'],[ia827BandInner,'#7C0B0B']],
   others:[['drake',drake58],['konno17',konno17],['santos',santos16],['ouchiFPC',ouchi08fpc]],
   legend:[['santos','=','5.7','Santos+16',''],['konno17','=','5.7','Konno+17','FPC'],['ouchiFPC','=','5.7','Ouchi+08','FPC'],['drake','∼','5.8','Drake+17b','']], lx:345}
];

// ================= DRAWING =================
const svg = d3.select('#c');
svg.append('rect').attr('width',2212).attr('height',2167).attr('fill','#fff');
const colX = [192, 851, 1511], rowY = [9, 521, 1033, 1545], PW = 660, PH = 511;

function shapePath(shape, s) {
  const h = s/2;
  if (shape === 'square') return `M${-h},${-h}H${h}V${h}H${-h}Z`;
  if (shape === 'diamond') return `M0,${-h*1.05}L${h},0L0,${h*1.05}L${-h},0Z`;
  if (shape === 'triangle') return `M0,${-s*0.58}L${h},${s*0.4}L${-h},${s*0.4}Z`;
  if (shape === 'hex') { let p=''; for (let k=0;k<6;k++){const a=Math.PI/3*k; p+=(k?'L':'M')+(h*Math.cos(a)).toFixed(2)+','+(h*Math.sin(a)).toFixed(2);} return p+'Z'; }
  return '';
}
function drawMark(g, cx, cy, st) {
  if (st.shape === 'circle') {
    g.append('ellipse').attr('cx',cx).attr('cy',cy).attr('rx',st.s/2).attr('ry',st.s/2*1.12)
      .attr('fill',st.fill).attr('stroke',st.stroke).attr('stroke-width',st.sw);
  } else {
    g.append('path').attr('d',shapePath(st.shape, st.s)).attr('transform',`translate(${cx},${cy})`)
      .attr('fill',st.fill).attr('stroke',st.stroke).attr('stroke-width',st.sw).attr('stroke-linejoin','miter');
  }
}
function drawErr(g, pts, x, y, color, w, cap) {
  pts.forEach(p => {
    const cx = x(p[0]), cy = y(p[1]);
    if (p[2] != null && p[3] != null) {
      const a = y(p[2]), b = y(p[3]);
      g.append('line').attr('x1',cx).attr('x2',cx).attr('y1',a).attr('y2',b).attr('stroke',color).attr('stroke-width',w);
      [a,b].forEach(v => g.append('line').attr('x1',cx-cap/2).attr('x2',cx+cap/2).attr('y1',v).attr('y2',v).attr('stroke',color).attr('stroke-width',w+0.8));
    }
    if (p[4] != null && p[5] != null) {
      const a = x(p[4]), b = x(p[5]);
      g.append('line').attr('x1',a).attr('x2',b).attr('y1',cy).attr('y2',cy).attr('stroke',color).attr('stroke-width',w);
      [a,b].forEach(v => g.append('line').attr('x1',v).attr('x2',v).attr('y1',cy-cap/2).attr('y2',cy+cap/2).attr('stroke',color).attr('stroke-width',w+0.8));
    }
  });
}
const bigSty = fill => ({shape:'square', s:21, fill, stroke:'#111', sw:2.2});
const smallSty = fill => ({shape:'square', s:11, fill, stroke:'#111', sw:1.8});

function legendCross(g, cx, cy, mode, color, w) {
  const L = 18, C = 10;
  if (!mode) return;
  g.append('line').attr('x1',cx).attr('x2',cx).attr('y1',cy-L).attr('y2',cy+L).attr('stroke',color).attr('stroke-width',w);
  [cy-L, cy+L].forEach(v => g.append('line').attr('x1',cx-C/2).attr('x2',cx+C/2).attr('y1',v).attr('y2',v).attr('stroke',color).attr('stroke-width',w+1));
  if (mode === 'b') {
    g.append('line').attr('y1',cy).attr('y2',cy).attr('x1',cx-L).attr('x2',cx+L).attr('stroke',color).attr('stroke-width',w);
    [cx-L, cx+L].forEach(v => g.append('line').attr('y1',cy-C/2).attr('y2',cy+C/2).attr('x1',v).attr('x2',v).attr('stroke',color).attr('stroke-width',w+1));
  }
}

panels.forEach((P, i) => {
  const col = i % 3, row = Math.floor(i / 3);
  const x0 = colX[col], y0 = rowY[row];
  const x = d3.scaleLinear().domain(xDomain).range([x0, x0 + PW]);
  const y = d3.scaleLinear().domain(yDomain).range([y0 + PH, y0]);
  const cid = 'clip' + i;
  svg.append('clipPath').attr('id', cid).append('rect').attr('x', x0).attr('y', y0).attr('width', PW).attr('height', PH);
  const g = svg.append('g');
  const gc = g.append('g').attr('clip-path', `url(#${cid})`);

  const area = d3.area().x(d => x(d[0])).y0(d => y(d[1])).y1(d => y(d[2])).curve(d3.curveMonotoneX);
  P.bands.forEach(([pts, color]) => gc.append('path').attr('d', area(pts)).attr('fill', color));

  drawErr(gc, P.big, x, y, '#111', 2.2, 11);
  drawErr(gc, P.small, x, y, '#111', 1.8, 10);
  P.big.forEach(p => drawMark(gc, x(p[0]), y(p[1]), bigSty(P.fill)));
  P.small.forEach(p => drawMark(gc, x(p[0]), y(p[1]), smallSty(P.fill)));

  P.others.forEach(([key, pts]) => {
    const st = STY[key];
    if (st.err) drawErr(gc, pts, x, y, st.err, st.ew, 10);
    pts.forEach(p => drawMark(gc, x(p[0]), y(p[1]), st));
  });

  P.up.forEach(p => {
    const X = x(p[0]), Y1 = y(p[1]), Y2 = y(p[1] - 0.33);
    gc.append('line').attr('x1',X).attr('x2',X).attr('y1',Y1).attr('y2',Y2-10).attr('stroke','#000').attr('stroke-width',2.5);
    gc.append('line').attr('x1',X-6).attr('x2',X+6).attr('y1',Y1).attr('y2',Y1).attr('stroke','#000').attr('stroke-width',4);
    gc.append('path').attr('d',`M${X-7},${Y2-13}L${X+7},${Y2-13}L${X},${Y2+1}Z`).attr('fill','#000');
    gc.append('circle').attr('cx',X).attr('cy',Y2-4).attr('r',2).attr('fill',P.fill);
  });

  g.append('rect').attr('x', x0).attr('y', y0).attr('width', PW).attr('height', PH)
    .attr('fill', 'none').attr('stroke', '#000').attr('stroke-width', 3);

  const tk = g.append('g').attr('stroke', '#000').attr('stroke-width', 2.4);
  const minorX = d3.range(422, 450).map(v => v / 10);
  const minorY = d3.range(-73, -20).map(v => v / 10);
  minorX.forEach(v => {
    const major = xTickValues.some(t => Math.abs(t - v) < 1e-6);
    const L = major ? 15 : 8;
    tk.append('line').attr('x1', x(v)).attr('x2', x(v)).attr('y1', y0 + PH).attr('y2', y0 + PH - L);
    tk.append('line').attr('x1', x(v)).attr('x2', x(v)).attr('y1', y0).attr('y2', y0 + L);
  });
  minorY.forEach(v => {
    const major = yTickValues.some(t => Math.abs(t - v) < 1e-6);
    const L = major ? 15 : 8;
    tk.append('line').attr('y1', y(v)).attr('y2', y(v)).attr('x1', x0).attr('x2', x0 + L);
    tk.append('line').attr('y1', y(v)).attr('y2', y(v)).attr('x1', x0 + PW).attr('x2', x0 + PW - L);
  });

  if (col === 0) {
    yTickValues.forEach((v, k) => g.append('text').attr('x', x0 - 11).attr('y', y(v) + 14)
      .attr('text-anchor', 'end').attr('font-family', SANS).attr('font-size', 39).text(yTickLabels[k]));
  }
  if (row === 3) {
    xTickValues.forEach((v, k) => g.append('text').attr('x', x(v)).attr('y', y0 + PH + 38)
      .attr('text-anchor', 'middle').attr('font-family', SANS).attr('font-size', 39).text(xTickLabels[k]));
  }

  P.legend.forEach((L, k) => {
    const st = STY[L[0]];
    const cx = x0 + P.lx, cy = y0 + 35 + 39.5 * k;
    if (st.err) legendCross(g, cx, cy, st.lerr, st.err, st.ew);
    drawMark(g, cx, cy, st);
    const t = g.append('text').attr('x', cx + 27).attr('y', cy + 9).attr('font-size', 27).attr('fill', '#111');
    t.append('tspan').attr('font-family', SERIF).attr('font-style', 'italic').text('z');
    t.append('tspan').attr('font-family', SERIF).text(' ' + L[1] + ' ' + L[2] + ' ');
    t.append('tspan').attr('font-family', SANS).text('(' + L[3]);
    if (L[4]) {
      t.append('tspan').attr('font-family', SERIF).attr('font-size', 17).attr('dy', -11).text(L[4]);
      t.append('tspan').attr('font-family', SANS).attr('dy', 11).text(')');
    } else {
      t.append('tspan').attr('font-family', SANS).text(')');
    }
  });

  const sx = x0 + 47, sy = y0 + 361;
  legendCross(g, sx, sy, 'b', '#111', 2.2);
  drawMark(g, sx, sy, bigSty(P.fill));
  g.append('text').attr('x', x0 + 82).attr('y', sy + 12).attr('font-family', SANS).attr('font-size', 33).attr('fill', '#111').text('This study');

  const zt = g.append('text').attr('x', x0 + 50).attr('y', y0 + 430).attr('font-family', SERIF).attr('font-size', 52).attr('fill', '#111').attr('word-spacing', 5);
  zt.append('tspan').attr('font-style', 'italic').text('z');
  zt.append('tspan').text(' = ' + redshifts[i]);
  g.append('text').attr('x', x0 + 50).attr('y', y0 + 487).attr('font-family', SANS).attr('font-size', 46)
    .attr('fill', P.label).text('(' + filters[i] + ')');

  if (i === 0) {
    const z2 = g.append('text').attr('x', x0 + 60).attr('y', y0 + 318).attr('font-family', SERIF).attr('font-size', 50).attr('fill', '#B22EEA').attr('word-spacing', 5);
    z2.append('tspan').attr('font-style', 'italic').text('z');
    z2.append('tspan').text(' = 2.2');
  }
});

rowY.forEach(r => {
  const t = svg.append('text').attr('transform', `translate(88,${r + PH / 2}) rotate(-90)`)
    .attr('text-anchor', 'middle').attr('font-family', SANS).attr('font-size', 46).attr('fill', '#111');
  t.append('tspan').text('log');
  t.append('tspan').attr('font-family', SERIF).attr('font-size', 31).attr('dy', 9).text('10');
  t.append('tspan').attr('dy', -9).text(' (');
  t.append('tspan').attr('font-family', SERIF).text('Φ');
  t.append('tspan').text('/Mpc');
  t.append('tspan').attr('font-family', SERIF).attr('font-size', 30).attr('dy', -18).text('−3');
  t.append('tspan').attr('dy', 18).text(') dlogL');
  t.append('tspan').attr('font-family', SERIF).attr('font-size', 30).attr('dy', -18).text('−1');
});
colX.forEach(c => {
  const t = svg.append('text').attr('x', c + PW / 2).attr('y', 2146)
    .attr('text-anchor', 'middle').attr('font-family', SANS).attr('font-size', 51).attr('fill', '#111');
  t.append('tspan').text('log');
  t.append('tspan').attr('font-family', SERIF).attr('font-size', 34).attr('dy', 10).text('10');
  t.append('tspan').attr('dy', -10).text(' (L');
  t.append('tspan').attr('font-family', SERIF).attr('font-size', 34).attr('dy', 10).text('Ly');
  t.append('tspan').attr('font-family', SERIF).attr('font-style', 'italic').attr('font-size', 34).text('α');
  t.append('tspan').attr('dy', -10).text('/erg s');
  t.append('tspan').attr('font-family', SERIF).attr('font-size', 34).attr('dy', -21).text('−1');
  t.append('tspan').attr('dy', 21).text(')');
});
</script>
</body></html>
